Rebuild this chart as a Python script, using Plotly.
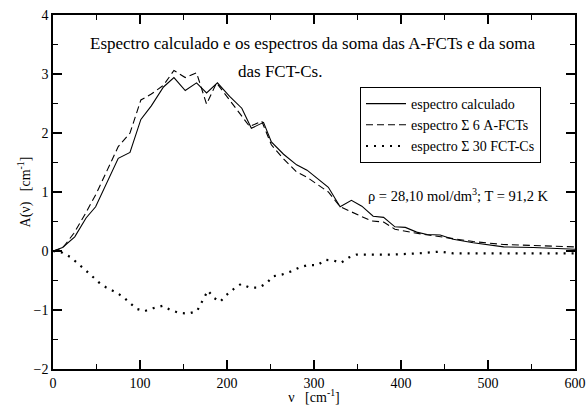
import plotly.graph_objects as go

# espectro calculado
x_calc = [0, 11, 25, 38, 49, 62.5, 75, 88.5, 101, 113, 127, 139, 152, 165, 176.5, 189, 203, 217, 228, 242,
          251, 265, 280, 292, 304, 316.5, 330, 343, 355, 368, 380, 393, 405, 418, 430, 445, 460, 483, 518, 552, 600]
y_calc = [0.0, 0.06, 0.24, 0.56, 0.75, 1.17, 1.57, 1.67, 2.23, 2.46, 2.78, 2.94, 2.72, 2.85, 2.68, 2.85, 2.62, 2.42, 2.08, 2.18,
          1.85, 1.64, 1.46, 1.37, 1.22, 1.08, 0.75, 0.86, 0.76, 0.59, 0.57, 0.41, 0.40, 0.32, 0.28, 0.27, 0.20, 0.14, 0.07, 0.06, 0.03]

# espectro soma 6 A-FCTs
x_afct = [0, 11, 24, 37.5, 50, 62.5, 75, 88.5, 101, 113, 127, 139, 152, 165, 176.5, 188, 200, 213, 226, 240,
          251, 265, 280, 292, 304, 316.5, 330, 345, 366, 380, 393, 418, 445, 483, 518, 600]
y_afct = [0.0, 0.05, 0.30, 0.64, 0.98, 1.38, 1.77, 2.0, 2.56, 2.66, 2.81, 3.06, 2.94, 3.02, 2.49, 2.85, 2.62, 2.38, 2.11, 2.20,
          1.80, 1.56, 1.34, 1.25, 1.12, 1.0, 0.75, 0.65, 0.51, 0.49, 0.37, 0.30, 0.24, 0.16, 0.11, 0.07]

# espectro soma 30 FCT-Cs
x_fctc = [0, 11, 20.7, 29, 37, 44.5, 52.5, 61.3, 71, 80, 88, 96, 105, 115, 125.7, 135, 145, 155.5, 165.5, 178,
          185.4, 192.3, 199, 208, 216, 226, 237, 246, 252.5, 263, 273, 283, 293, 304, 313, 322, 331, 340, 349,
          360, 370, 381, 392, 420, 445, 460, 600]
y_fctc = [0.0, -0.03, -0.11, -0.21, -0.32, -0.42, -0.53, -0.62, -0.69, -0.77, -0.88, -0.98, -1.02, -0.97, -0.93, -1.0, -1.05, -1.06, -1.02, -0.67,
          -0.80, -0.86, -0.75, -0.64, -0.56, -0.62, -0.62, -0.54, -0.43, -0.40, -0.35, -0.28, -0.24, -0.24, -0.15, -0.16, -0.20, -0.11, -0.06,
          -0.06, -0.07, -0.06, -0.06, -0.04, -0.01, -0.04, -0.04]

names = ["espectro calculado", "espectro Σ 6 A-FCTs", "espectro Σ 30 FCT-Cs"]

SERIF = "'Liberation Serif', 'Times New Roman', Times, serif"

fig = go.Figure()
fig.add_trace(go.Scatter(x=x_calc, y=y_calc, mode="lines", name=names[0],
                         line=dict(color="black", width=1.1)))
fig.add_trace(go.Scatter(x=x_afct, y=y_afct, mode="lines", name=names[1],
                         line=dict(color="black", width=1.1, dash="7px,4px")))
fig.add_trace(go.Scatter(x=x_fctc, y=y_fctc, mode="lines", name=names[2],
                         line=dict(color="black", width=2.2, dash="2px,6px")))

axis_common = dict(showline=True, linecolor="black", linewidth=1.5, mirror="ticks",
                   ticks="inside", ticklen=9, tickwidth=1.5, tickcolor="black",
                   showgrid=False, zeroline=False, automargin=False,
                   tickfont=dict(family=SERIF, size=14, color="black"))

fig.update_xaxes(range=[0, 600], dtick=100, tick0=0,
                 minor=dict(ticks="inside", ticklen=5, dtick=50, tickcolor="black", tickwidth=1.2, showgrid=False),
                 title=dict(text="ν   [cm<sup>-1</sup>]", font=dict(family=SERIF, size=14, color="black"), standoff=2),
                 **axis_common)
fig.update_yaxes(range=[-2, 4], dtick=1, tick0=0,
                 minor=dict(ticks="inside", ticklen=5, dtick=0.5, tickcolor="black", tickwidth=1.2, showgrid=False),
                 title=dict(text="A(ν)   [cm<sup>-1</sup>]", font=dict(family=SERIF, size=14, color="black"), standoff=0),
                 **axis_common)

fig.add_annotation(text="Espectro calculado e os espectros da soma das A-FCTs e da soma",
                   xref="paper", yref="paper", x=(312 - 53) / 522, y=(369 - 44) / 354,
                   xanchor="center", yanchor="middle", showarrow=False,
                   font=dict(family=SERIF, size=17, color="black"))
fig.add_annotation(text="das FCT-Cs.",
                   xref="paper", yref="paper", x=(236 - 53) / 522, y=(369 - 71) / 354,
                   xanchor="left", yanchor="middle", showarrow=False,
                   font=dict(family=SERIF, size=17, color="black"))
fig.add_annotation(text="ρ = 28,10 mol/dm<sup>3</sup>; T = 91,2 K",
                   xref="paper", yref="paper", x=(366 - 53) / 522, y=(369 - 195) / 354,
                   xanchor="left", yanchor="middle", showarrow=False,
                   font=dict(family=SERIF, size=14.5, color="black"))

fig.update_layout(
    width=587, height=405,
    margin=dict(l=53, r=12, t=15, b=36),
    paper_bgcolor="white", plot_bgcolor="white",
    font=dict(family=SERIF, color="black"),
    showlegend=True,
    legend=dict(x=(360 - 53) / 522, y=(369 - 87) / 354, xanchor="left", yanchor="top",
                bordercolor="black", borderwidth=1, bgcolor="white",
                font=dict(family=SERIF, size=14, color="black"),
                tracegroupgap=0, itemwidth=40),
)

fig.write_html("out.html", config={"displayModeBar": False},
               post_script="document.body.style.margin='0';")
